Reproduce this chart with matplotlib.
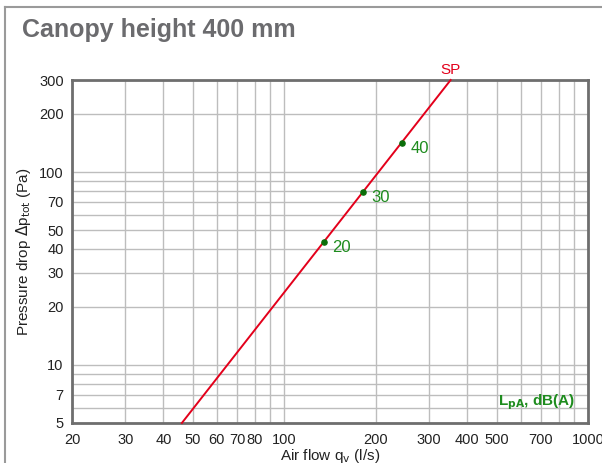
"""Pressure drop vs air flow chart, canopy height 400 mm."""

import matplotlib

matplotlib.use("Agg")
import matplotlib.pyplot as plt  # noqa: E402
from matplotlib.lines import Line2D  # noqa: E402
from matplotlib.ticker import FixedLocator, NullFormatter  # noqa: E402

plt.rcParams["font.family"] = ["Liberation Sans", "DejaVu Sans"]

# SP curve end points (air flow l/s, pressure Pa)
sp_flow = [46, 353]
sp_pressure = [5, 300]

# sound level markers on the curve
lpa_flow = [135, 182, 245]
lpa_pressure = [43.5, 79, 142]
lpa_labels = ["20", "30", "40"]

x_ticks = [20, 30, 40, 50, 60, 70, 80, 100, 200, 300, 400, 500, 700, 1000]
y_ticks = [5, 7, 10, 20, 30, 40, 50, 70, 100, 200, 300]

RED = "#e3001b"
GREEN = "#1e8c1e"
DOT = "#0a6e0a"
GRID = "#bdbdbd"
SPINE = "#6e6e6e"

fig = plt.figure(figsize=(6.02, 4.63), dpi=100)
ax = fig.add_axes([0.1196, 0.0864, 0.8571, 0.7408])

ax.set_xscale("log")
ax.set_yscale("log")
ax.set_xlim(20, 1000)
ax.set_ylim(5, 300)

ax.xaxis.set_major_locator(FixedLocator(x_ticks))
ax.xaxis.set_major_formatter(plt.FixedFormatter([str(v) for v in x_ticks]))
ax.yaxis.set_major_locator(FixedLocator(y_ticks))
ax.yaxis.set_major_formatter(plt.FixedFormatter([str(v) for v in y_ticks]))
ax.xaxis.set_minor_formatter(NullFormatter())
ax.yaxis.set_minor_formatter(NullFormatter())
ax.tick_params(which="both", length=0, labelsize=10.5, colors="#222222")
ax.tick_params(axis="x", pad=7)
ax.tick_params(axis="y", pad=6)
ax.grid(True, which="both", color=GRID, linewidth=1.0)
ax.set_axisbelow(True)
for side in ax.spines.values():
    side.set_color(SPINE)
    side.set_linewidth(2)

ax.plot(sp_flow, sp_pressure, color=RED, linewidth=1.4, clip_on=False, zorder=3)
ax.scatter(lpa_flow, lpa_pressure, s=14, color=DOT, zorder=4)
for fx, fy, lab in zip(lpa_flow, lpa_pressure, lpa_labels):
    ax.annotate(lab, (fx, fy), xytext=(6, -4), textcoords="offset points",
                color=GREEN, fontsize=12, va="center")
ax.annotate("SP", (sp_flow[1], sp_pressure[1]), xytext=(0, 2),
            textcoords="offset points", color=RED, fontsize=11,
            ha="center", va="bottom", annotation_clip=False)
ax.text(0.975, 0.061, r"L$_{\mathbf{pA}}$, dB(A)", transform=ax.transAxes,
        color=GREEN, fontsize=11, fontweight="bold", ha="right", va="center")

ax.set_xlabel(r"Air flow q$_\mathrm{v}$ (l/s)", fontsize=11, labelpad=0,
              color="#222222")
ax.set_ylabel(r"Pressure drop $\Delta$p$_\mathrm{tot}$ (Pa)", fontsize=11,
              labelpad=4, color="#222222")

fig.text(0.036, 0.935, "Canopy height 400 mm", fontsize=18, fontweight="bold",
         color="#6b6b6e", ha="left", va="center")

# outer frame (top and left edges visible)
fig.add_artist(Line2D([5 / 602, 1.0], [1 - 7 / 463, 1 - 7 / 463],
                      transform=fig.transFigure, color="#9a9a9a", linewidth=1.5))
fig.add_artist(Line2D([5 / 602, 5 / 602], [0.0, 1 - 7 / 463],
                      transform=fig.transFigure, color="#9a9a9a", linewidth=1.5))

fig.savefig("out.png", dpi=100)
plt.close(fig)
